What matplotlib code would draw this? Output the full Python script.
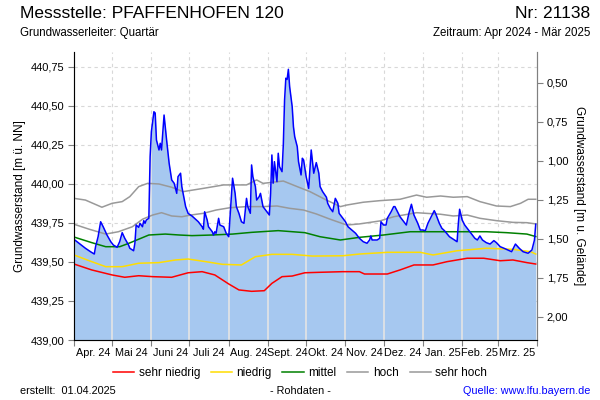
import matplotlib
matplotlib.use("Agg")
import matplotlib.pyplot as plt
from matplotlib.lines import Line2D
from matplotlib.ticker import FuncFormatter

plt.rcParams["font.family"] = ["Liberation Sans", "DejaVu Sans"]

# Tage ab 01.04.2024
monate = ["Apr. 24", "Mai 24", "Juni 24", "Juli 24", "Aug. 24", "Sept. 24",
          "Okt. 24", "Nov. 24", "Dez. 24", "Jan. 25", "Feb. 25", "Mrz. 25"]
monatsbeginn = [0, 30, 61, 91, 122, 153, 183, 214, 244, 275, 306, 334, 365]

# Messwerte Grundwasserstand [m ü. NN]
tag = [0, 4, 9, 13, 16, 17, 19, 21, 23, 26, 29, 31, 34, 36, 38, 40, 43, 44, 47, 48,
       49, 51, 52, 54, 55, 56, 57, 59, 60, 61, 63, 64, 65, 67, 68, 69, 71, 73, 75, 77,
       79, 81, 82, 84, 85, 88, 90, 93, 95, 98, 101, 102, 103, 105, 106, 109, 110, 111, 112, 114,
       115, 118, 120, 122, 125, 127, 128, 130, 132, 134, 136, 137, 139, 140, 141, 143, 144, 146, 147, 149,
       152, 154, 155, 156, 157, 158, 160, 161, 162, 164, 165, 166, 167, 168, 169, 170, 172, 173, 174, 176,
       177, 179, 180, 181, 183, 185, 187, 189, 191, 193, 194, 196, 199, 200, 202, 204, 206, 208, 209, 211,
       214, 216, 219, 222, 225, 228, 231, 233, 234, 235, 239, 241, 242, 244, 246, 247, 250, 252, 253, 255,
       257, 260, 262, 264, 266, 268, 271, 273, 275, 277, 279, 281, 284, 285, 288, 290, 292, 296, 300, 302,
       303, 304, 306, 308, 311, 313, 316, 318, 320, 322, 325, 328, 331, 333, 336, 339, 342, 345, 348, 351,
       354, 358, 361, 363, 364]
stand = [439.645, 439.620, 439.588, 439.566, 439.551, 439.598, 439.662, 439.758, 439.726, 439.673,
         439.630, 439.609, 439.594, 439.630, 439.688, 439.652, 439.609, 439.588, 439.572, 439.620,
         439.737, 439.722, 439.748, 439.726, 439.765, 439.748, 439.769, 439.780, 440.175, 440.335,
         440.463, 440.455, 440.282, 440.218, 440.261, 440.218, 440.442, 440.282, 440.133, 440.026,
         440.004, 439.940, 440.047, 440.069, 439.983, 439.855, 439.811, 439.795, 439.780, 439.758,
         439.726, 439.710, 439.822, 439.769, 439.726, 439.694, 439.673, 439.694, 439.684, 439.780,
         439.737, 439.726, 439.684, 439.662, 440.037, 439.940, 439.855, 439.812, 439.758, 439.748,
         439.908, 439.855, 439.812, 440.122, 440.047, 439.983, 439.897, 439.919, 439.940, 439.855,
         439.822, 439.801, 439.940, 440.186, 440.005, 440.143, 440.015, 440.197, 440.111, 440.079,
         440.250, 440.538, 440.678, 440.670, 440.735, 440.624, 440.496, 440.367, 440.303, 440.239,
         440.143, 440.058, 440.165, 440.154, 440.047, 439.972, 440.218, 440.069, 440.137, 440.069,
         439.983, 439.951, 439.915, 439.876, 439.844, 439.822, 439.908, 439.876, 439.812, 439.790,
         439.758, 439.726, 439.705, 439.684, 439.652, 439.630, 439.620, 439.641, 439.667, 439.641,
         439.641, 439.652, 439.758, 439.737, 439.737, 439.780, 439.822, 439.855, 439.855, 439.822,
         439.790, 439.758, 439.737, 439.812, 439.870, 439.801, 439.748, 439.705, 439.705, 439.701,
         439.748, 439.780, 439.829, 439.812, 439.748, 439.716, 439.701, 439.662, 439.641, 439.630,
         439.748, 439.838, 439.769, 439.737, 439.705, 439.684, 439.652, 439.641, 439.667, 439.641,
         439.624, 439.615, 439.637, 439.624, 439.598, 439.588, 439.577, 439.566, 439.615, 439.588,
         439.566, 439.556, 439.577, 439.641, 439.742]

# Vergleichswerte
sh_tag = [0, 9, 22, 30, 38, 44, 51, 58, 67, 77, 86, 102, 118, 136, 144, 149, 165, 176, 186, 199,
          210, 215, 228, 241, 257, 270, 278, 289, 299, 310, 320, 333, 344, 352, 358, 364]
sehr_hoch = [439.908, 439.897, 439.851, 439.876, 439.887, 439.919, 439.983, 440.004, 440.000, 439.979,
             439.951, 439.972, 439.994, 439.994, 440.026, 440.004, 440.019, 439.983, 439.951, 439.897,
             439.855, 439.865, 439.883, 439.893, 439.902, 439.929, 439.915, 439.923, 439.915, 439.919,
             439.887, 439.859, 439.855, 439.876, 439.902, 439.902]
h_tag = [0, 12, 25, 35, 46, 54, 62, 69, 77, 85, 92, 102, 112, 123, 136, 149, 160, 170, 181, 191,
         202, 215, 225, 241, 252, 270, 289, 299, 310, 320, 333, 346, 357, 364]
hoch = [439.742, 439.710, 439.679, 439.694, 439.726, 439.774, 439.801, 439.816, 439.795, 439.790,
        439.801, 439.812, 439.833, 439.848, 439.855, 439.855, 439.859, 439.844, 439.833, 439.808,
        439.774, 439.737, 439.744, 439.763, 439.790, 439.816, 439.806, 439.795, 439.801, 439.780,
        439.765, 439.754, 439.752, 439.744]
m_tag = [0, 14, 25, 36, 43, 51, 59, 72, 83, 93, 109, 125, 140, 161, 182, 194, 210, 225, 244, 265,
         296, 325, 341, 357, 364]
mittel = [439.660, 439.624, 439.598, 439.598, 439.619, 439.646, 439.673, 439.679, 439.673, 439.669,
          439.673, 439.679, 439.690, 439.701, 439.688, 439.662, 439.641, 439.658, 439.673, 439.694,
          439.694, 439.694, 439.688, 439.679, 439.663]
n_tag = [0, 12, 25, 38, 51, 67, 80, 90, 104, 117, 132, 143, 156, 172, 188, 212, 225, 247, 273, 283,
         302, 315, 325, 346, 360, 364]
niedrig = [439.545, 439.508, 439.470, 439.470, 439.492, 439.496, 439.513, 439.519, 439.502, 439.485,
           439.481, 439.534, 439.549, 439.549, 439.538, 439.540, 439.551, 439.562, 439.562, 439.545,
           439.572, 439.581, 439.588, 439.581, 439.566, 439.551]
sn_tag = [0, 14, 30, 40, 51, 62, 77, 90, 101, 111, 122, 130, 140, 150, 156, 164, 172, 182, 194, 212,
          225, 229, 247, 257, 268, 283, 294, 310, 323, 336, 346, 357, 364]
sehr_niedrig = [439.487, 439.449, 439.417, 439.402, 439.412, 439.406, 439.402, 439.431, 439.438, 439.417,
                439.359, 439.321, 439.312, 439.316, 439.363, 439.406, 439.410, 439.431, 439.434, 439.438,
                439.438, 439.423, 439.423, 439.449, 439.481, 439.481, 439.502, 439.524, 439.524, 439.508,
                439.513, 439.496, 439.487]

gelaende = 441.15
y_min, y_max = 439.0, 440.846

fig = plt.figure(figsize=(6, 4), dpi=100)
ax = fig.add_axes([74 / 600, 60 / 400, 463 / 600, 288 / 400])

ax.set_xlim(0, 365)
ax.set_ylim(y_min, y_max)

# Gitter
for t in [439.25, 439.5, 439.75, 440.0, 440.25, 440.5, 440.75]:
    ax.axhline(t, color="#d8d8d8", lw=0.8, ls=(0, (3, 3)), zorder=0)
for m in monatsbeginn[1:-1]:
    ax.axvline(m, color="#d8d8d8", lw=0.8, ls=(0, (3, 3)), zorder=0)

fl = ax.fill_between(tag, y_min, stand, color="#a6c8f0", lw=0, zorder=1)
clip = fl.get_paths()[0]
for m in monatsbeginn[1:-1]:
    ln = ax.axvline(m, color="#e4e4e4", lw=1.2, zorder=2)
    ln.set_clip_path(clip, ax.transData)

ax.plot(sn_tag, sehr_niedrig, color="#ff0000", lw=1.1, zorder=3)
ax.plot(n_tag, niedrig, color="#ffdd00", lw=1.1, zorder=3)
ax.plot(m_tag, mittel, color="#008000", lw=1.1, zorder=3)
ax.plot(h_tag, hoch, color="#999999", lw=1.1, zorder=3)
ax.plot(sh_tag, sehr_hoch, color="#999999", lw=1.1, zorder=3)
ax.plot(tag, stand, color="#0000ff", lw=1.1, zorder=4)

ax.spines["top"].set_visible(False)
for s in ["left", "right", "bottom"]:
    ax.spines[s].set_color("#808080")

ax.set_yticks([439.0, 439.25, 439.5, 439.75, 440.0, 440.25, 440.5, 440.75])
ax.yaxis.set_major_formatter(FuncFormatter(lambda v, p: f"{v:.2f}".replace(".", ",")))
ax.tick_params(axis="y", labelsize=8, colors="#808080", labelcolor="black", length=4, pad=3)
ax.set_xticks(monatsbeginn)
ax.set_xticklabels([])
ax.tick_params(axis="x", colors="#808080", length=4)
for i, lab in enumerate(monate):
    mitte = (monatsbeginn[i] + monatsbeginn[i + 1]) / 2
    ax.text(mitte, -0.045, lab, transform=ax.get_xaxis_transform(), ha="center", va="center",
            fontsize=7.8, color="black")
ax.set_ylabel("Grundwasserstand [m ü. NN]", fontsize=8.5, labelpad=3)

ax2 = ax.twinx()
ax2.set_ylim(gelaende - y_min, gelaende - y_max)
ax2.set_yticks([0.5, 0.75, 1.0, 1.25, 1.5, 1.75, 2.0])
ax2.yaxis.set_major_formatter(FuncFormatter(lambda v, p: f"{v:.2f}".replace(".", ",")))
ax2.tick_params(axis="y", labelsize=8, colors="#808080", labelcolor="black", length=4, pad=3)
ax2.spines["top"].set_visible(False)
ax2.spines["right"].set_color("#808080")
ax2.set_ylabel("Grundwasserstand [m u. Gelände]", fontsize=8.5, rotation=270, labelpad=12)

fig.text(20 / 600, 1 - 14 / 400, "Messstelle: PFAFFENHOFEN 120", fontsize=12.5, va="center", ha="left")
fig.text(590 / 600, 1 - 14 / 400, "Nr: 21138", fontsize=12.5, va="center", ha="right")
fig.text(20 / 600, 1 - 33 / 400, "Grundwasserleiter: Quartär", fontsize=8.3, va="center", ha="left")
fig.text(590 / 600, 1 - 33 / 400, "Zeitraum: Apr 2024 - Mär 2025", fontsize=8.3, va="center", ha="right")

handles = [Line2D([], [], color=c, lw=1.1) for c in ["#ff0000", "#ffdd00", "#008000", "#999999", "#999999"]]
fig.legend(handles, ["sehr niedrig", "niedrig", "mittel", "hoch", "sehr hoch"], ncol=5,
           loc="center", bbox_to_anchor=(300 / 600, 1 - 373 / 400), frameon=False, fontsize=8.5,
           handlelength=1.8, handletextpad=0.4, columnspacing=0.9)

fig.text(20 / 600, 1 - 391 / 400, "erstellt:  01.04.2025", fontsize=7.8, va="center", ha="left")
fig.text(300 / 600, 1 - 391 / 400, "- Rohdaten -", fontsize=7.8, va="center", ha="center")
fig.text(590 / 600, 1 - 391 / 400, "Quelle: www.lfu.bayern.de", fontsize=7.8, va="center", ha="right",
         color="#0000ff")

fig.savefig("out.png", dpi=100)
